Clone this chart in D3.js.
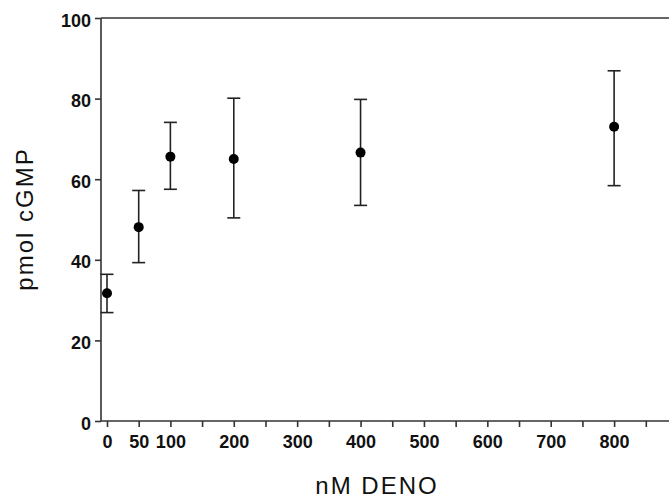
<!DOCTYPE html>
<html>
<head>
<meta charset="utf-8">
<script src="https://cdn.jsdelivr.net/npm/d3@7"></script>
<style>
  html, body { margin: 0; padding: 0; background: #fff; }
  svg { display: block; }
  .tick text { font-family: "Liberation Sans", Arial, sans-serif; font-weight: bold; font-size: 18px; fill: #111; }
  .axis-title { font-family: "Liberation Sans", Arial, sans-serif; font-size: 24px; fill: #111; }
</style>
</head>
<body>
<div id="chart"></div>
<script>
// cGMP response to DENO dose
const doses = [0, 50, 100, 200, 400, 800];
const means = [31.7, 48.1, 65.6, 65.0, 66.6, 73.0];
const upper = [36.4, 57.2, 74.1, 80.1, 79.8, 86.9];
const lower = [26.9, 39.3, 57.5, 50.4, 53.5, 58.4];
const xTickLabels = [0, 50, 100, 200, 300, 400, 500, 600, 700, 800];
const yTickLabels = [0, 20, 40, 60, 80, 100];

const WIDTH = 669, HEIGHT = 499;
const AXIS_COLOR = "#333";

const svg = d3.select("#chart")
    .append("svg")
    .attr("width", WIDTH)
    .attr("height", HEIGHT);

// x scale runs off the right edge, like the original
const x = d3.scaleLinear().domain([0, 900]).range([107, 677.5]);
const y = d3.scaleLinear().domain([0, 100]).range([421, 18]);
const axisLeftX = 101;

// frame: top line and axis lines
svg.append("line")
    .attr("x1", axisLeftX).attr("x2", WIDTH + 10)
    .attr("y1", y(100)).attr("y2", y(100))
    .attr("stroke", AXIS_COLOR).attr("stroke-width", 1.6);

// y axis
const yAxis = svg.append("g")
    .attr("transform", "translate(" + axisLeftX + ",0)")
    .call(d3.axisLeft(y).tickValues(yTickLabels).tickSize(6).tickPadding(4).tickFormat(d3.format("d")));
yAxis.select(".domain").attr("stroke", AXIS_COLOR).attr("stroke-width", 1.6).attr("d", "M0," + y(100) + "V" + y(0));
yAxis.selectAll(".tick line").attr("stroke", AXIS_COLOR).attr("stroke-width", 1.6);
yAxis.selectAll(".tick text").attr("dy", "0.45em");

// x axis: ticks every 50, labels only on some
const xTicks = d3.range(0, 901, 50);
const xAxis = svg.append("g")
    .attr("transform", "translate(0," + y(0) + ")")
    .call(d3.axisBottom(x).tickValues(xTicks).tickSize(6).tickPadding(8)
        .tickFormat(d => xTickLabels.includes(d) ? d : ""));
xAxis.select(".domain").attr("stroke", AXIS_COLOR).attr("stroke-width", 1.6)
    .attr("d", "M" + axisLeftX + ",0H" + (WIDTH + 10));
xAxis.selectAll(".tick line").attr("stroke", AXIS_COLOR).attr("stroke-width", 1.6);

// error bars
const bars = svg.append("g");
doses.forEach((d, i) => {
    const cx = x(d);
    bars.append("line")
        .attr("x1", cx).attr("x2", cx)
        .attr("y1", y(upper[i])).attr("y2", y(lower[i]))
        .attr("stroke", "#222").attr("stroke-width", 1.6);
    [upper[i], lower[i]].forEach(v => {
        bars.append("line")
            .attr("x1", cx - 6.5).attr("x2", cx + 6.5)
            .attr("y1", y(v)).attr("y2", y(v))
            .attr("stroke", "#222").attr("stroke-width", 1.6);
    });
});

// mean points
svg.append("g")
    .selectAll("circle")
    .data(doses)
    .enter()
    .append("circle")
      .attr("cx", d => x(d))
      .attr("cy", (d, i) => y(means[i]))
      .attr("r", 5)
      .attr("fill", "#000");

// axis titles
svg.append("text")
    .attr("class", "axis-title")
    .attr("x", 377).attr("y", 494)
    .attr("text-anchor", "middle")
    .attr("letter-spacing", "2px")
    .text("nM DENO");

svg.append("text")
    .attr("class", "axis-title")
    .attr("transform", "translate(33,219) rotate(-90)")
    .attr("text-anchor", "middle")
    .attr("letter-spacing", "2px")
    .text("pmol cGMP");
</script>
</body>
</html>
